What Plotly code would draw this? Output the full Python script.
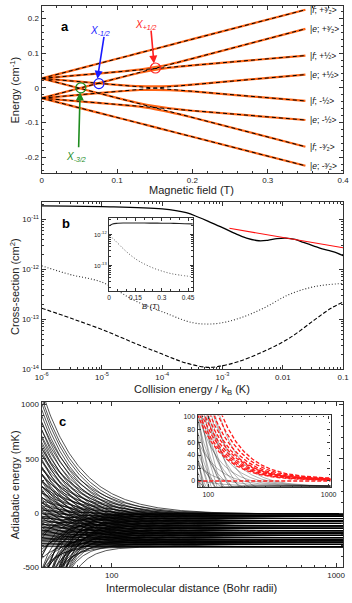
import numpy as np
import plotly.graph_objects as go

# ---------------- panel a : Zeeman levels ----------------
b_grid = [0, 0.05, 0.1, 0.13, 0.15, 0.17, 0.2, 0.35]
orange_levels = [
    [0.027, 0.0553, 0.0836, 0.1006, 0.1119, 0.1232, 0.1402, 0.225],
    [0.027, 0.0365, 0.0459, 0.0525, 0.0595, 0.0680, 0.0842, 0.170],
    [-0.030, -0.0015, 0.0271, 0.0435, 0.0515, 0.0580, 0.0648, 0.093],
    [0.027, 0.0177, 0.0086, 0.0045, 0.0038, 0.0050, 0.0092, 0.038],
    [-0.030, -0.0203, -0.0108, -0.0064, -0.0058, -0.0066, -0.0105, -0.038],
    [0.027, -0.0012, -0.0293, -0.0450, -0.0530, -0.0590, -0.0662, -0.093],
    [-0.030, -0.0390, -0.0482, -0.0545, -0.0615, -0.0700, -0.0856, -0.170],
    [-0.030, -0.0579, -0.0857, -0.1024, -0.1136, -0.1247, -0.1414, -0.225],
]
# diabatic (dashed) lines: energy at B=0 and at B=0.35 T
diab_start = [0.027, -0.030, 0.027, -0.030, 0.027, -0.030, 0.027, -0.030]
diab_end = [0.225, 0.170, 0.093, 0.038, -0.038, -0.093, -0.170, -0.225]
state_labels = ['|<i>f</i>; +³⁄₂>', '|<i>e</i>; +³⁄₂>', '|<i>f</i>; +½>', '|<i>e</i>; +½>',
                '|<i>f</i>; -½>', '|<i>e</i>; -½>', '|<i>f</i>; -³⁄₂>', '|<i>e</i>; -³⁄₂>']
label_y = [0.225, 0.170, 0.093, 0.038, -0.038, -0.093, -0.170, -0.225]

# crossings: (B, E, colour, text, text position, arrow tail, arrow head)
crossings = [
    (0.076, 0.012, '#1a1aff', 'X<sub>-1/2</sub>', (0.078, 0.165), (0.083, 0.151), (0.074, 0.026)),
    (0.151, 0.057, '#ff2020', 'X<sub>+1/2</sub>', (0.138, 0.181), (0.145, 0.169), (0.149, 0.070)),
    (0.052, 0.000, '#1e8c1e', 'X<sub>-3/2</sub>', (0.046, -0.200), (0.049, -0.176), (0.051, -0.013)),
]

# ---------------- panel b : cross sections ----------------
solid_E = [1e-6, 1e-5, 1e-4, 2.5e-4, 4e-4, 6.3e-4, 1e-3, 1.6e-3, 2.5e-3, 4e-3, 5.6e-3,
           8e-3, 1.1e-2, 1.6e-2, 2.2e-2, 3.2e-2, 4.5e-2, 6.3e-2, 8e-2, 0.1]
solid_sig = [1.86e-11, 1.80e-11, 1.62e-11, 1.36e-11, 1.10e-11, 8.7e-12, 6.8e-12, 5.2e-12,
             4.2e-12, 3.72e-12, 3.8e-12, 4.1e-12, 4.2e-12, 3.95e-12, 3.45e-12, 2.95e-12,
             2.55e-12, 2.3e-12, 2.1e-12, 1.86e-12]
red_E = [1.3e-3, 0.1]
red_sig = [6.6e-12, 2.7e-12]
dot_E = [1e-6, 3e-6, 1e-5, 3.5e-5, 1e-4, 3.2e-4, 7.5e-4, 1.8e-3, 4.8e-3, 1.26e-2, 3.4e-2, 0.1]
dot_sig = [1.17e-12, 7.8e-13, 5.5e-13, 2.35e-13, 1.41e-13, 8.5e-14, 8.1e-14, 1.02e-13,
           1.66e-13, 3.1e-13, 4.5e-13, 5.2e-13]
dash_E = [1e-6, 3e-6, 1e-5, 3.5e-5, 1e-4, 2.5e-4, 6e-4, 1e-3, 1.8e-3, 4.8e-3, 1.26e-2,
          3.4e-2, 6.3e-2, 0.1]
dash_sig = [1.66e-13, 1.05e-13, 6.2e-14, 3.3e-14, 2.0e-14, 1.32e-14, 1.08e-14, 1.17e-14,
            1.4e-14, 2.25e-14, 4.1e-14, 9.8e-14, 1.65e-13, 2.2e-13]
inset_B = [0, 0.02, 0.05, 0.08, 0.12, 0.16, 0.2, 0.25, 0.3, 0.35, 0.4, 0.476]
inset_solid = [1.9e-12, 2.2e-12, 2.3e-12, 2.35e-12, 2.35e-12, 2.35e-12, 2.35e-12,
               2.33e-12, 2.32e-12, 2.3e-12, 2.28e-12, 2.2e-12]
inset_dot = [8.9e-13, 7.6e-13, 5.2e-13, 3.5e-13, 2.2e-13, 1.5e-13, 1.12e-13, 8.3e-14,
             6.6e-14, 5.5e-14, 4.9e-14, 4.3e-14]

# ---------------- panel c : adiabatic curves ----------------
# asymptotic energies (mK); for each, how far its curves lie above / below it at R = 100 a0
c_levels = [-8, -28, -50, -72, -95, -117, -140, -162, -184, -205, -226, -247, -268, -288, -310]
c_rise = [
    [188, 140, 100, 68, 42, 20, 6],
    [180, 132, 94, 62, 36, 16, 4],
    [176, 126, 88, 57, 32, 13, 3],
    [170, 120, 82, 52, 28, 11, 4],
    [165, 114, 76, 47, 25, 9, 2],
    [158, 108, 70, 43, 22, 8, 1.5],
    [150, 102, 65, 39, 19, 6, 2],
    [142, 96, 60, 35, 17, 5, 1],
    [135, 90, 55, 31, 14, 4, 1.5],
    [128, 84, 50, 28, 12, 3.5, 1],
    [120, 78, 45, 25, 10, 3, 0.8],
    [112, 72, 41, 22, 9, 2.5, 0.6],
    [104, 66, 37, 19, 7, 2, 0.5],
    [96, 60, 33, 16, 6, 1.8, 0.4],
    [88, 54, 29, 14, 5, 1.5, 0.3],
]
c_fall = [
    [-3, -10, -21], [-5, -12, -18], [-2, -9, -23], [-6, -14, -20], [-4, -11, -25],
    [-7, -15, -22], [-3, -10, -17], [-5, -13, -24], [-2, -8, -19], [-6, -12, -22],
    [-4, -9, -16], [-5, -11, -20], [-2, -7, -14], [-4, -10, -18], [-3, -8, -25],
]
# centrifugal (red dashed) curves: distance where they reach 100 mK, and threshold
red_rc = [82, 85, 89, 93, 98, 104, 111, 120, 129]
red_thr = [0.5, 1.0, 1.5, 2.0, 2.5, 1.5, 2.0, 2.5, 3.0]

fig = go.Figure()

# panel a
for y in orange_levels:
    fig.add_trace(go.Scatter(x=b_grid, y=y, mode='lines', line=dict(color='#ff6414', width=2.2, shape='spline', smoothing=0.6),
                             xaxis='x', yaxis='y', hoverinfo='skip'))
for y0, y1 in zip(diab_start, diab_end):
    fig.add_trace(go.Scatter(x=[0, 0.35], y=[y0, y1], mode='lines', line=dict(color='black', width=1, dash='4px,3px'),
                             xaxis='x', yaxis='y', hoverinfo='skip'))
for bx, by, col, txt, tp, tail, head in crossings:
    fig.add_trace(go.Scatter(x=[bx], y=[by], mode='markers',
                             marker=dict(symbol='circle-open', size=10, color=col, line=dict(width=1.2, color=col)),
                             xaxis='x', yaxis='y', hoverinfo='skip'))

# panel b
fig.add_trace(go.Scatter(x=solid_E, y=solid_sig, mode='lines', line=dict(color='black', width=1.3, shape='spline'), xaxis='x2', yaxis='y2'))
fig.add_trace(go.Scatter(x=red_E, y=red_sig, mode='lines', line=dict(color='#ff1010', width=1.1), xaxis='x2', yaxis='y2'))
fig.add_trace(go.Scatter(x=dot_E, y=dot_sig, mode='lines', line=dict(color='#333', width=1.1, dash='1px,2px', shape='spline'), xaxis='x2', yaxis='y2'))
fig.add_trace(go.Scatter(x=dash_E, y=dash_sig, mode='lines', line=dict(color='black', width=1.1, dash='4px,2px', shape='spline'), xaxis='x2', yaxis='y2'))
fig.add_trace(go.Scatter(x=inset_B, y=inset_solid, mode='lines', line=dict(color='#222', width=1.1, shape='spline'), xaxis='x3', yaxis='y3'))
fig.add_trace(go.Scatter(x=inset_B, y=inset_dot, mode='lines', line=dict(color='#555', width=1, dash='1px,2px', shape='spline'), xaxis='x3', yaxis='y3'))

# panel c
R_main = np.logspace(np.log10(48.7), np.log10(1080), 260)
R_ins = np.logspace(np.log10(81), np.log10(1040), 220)


def curves(R):
    xs, ys = [], []
    for lev, rise, fall in zip(c_levels, c_rise, c_fall):
        for d in rise:
            xs += list(R) + [None]
            ys += list(lev + d * (100 / R) ** 2.5) + [None]
        for d in fall:
            xs += list(R) + [None]
            ys += list(lev + d * (100 / R) ** 6) + [None]
    return xs, ys


cx, cy = curves(R_main)
fig.add_trace(go.Scatter(x=cx, y=cy, mode='lines', line=dict(color='rgba(0,0,0,0.85)', width=0.8), xaxis='x4', yaxis='y4', hoverinfo='skip'))
ix, iy = curves(R_ins)
fig.add_trace(go.Scatter(x=ix, y=iy, mode='lines', line=dict(color='rgba(0,0,0,0.38)', width=0.8), xaxis='x5', yaxis='y5', hoverinfo='skip'))
rx, ry = [], []
for rc, thr in zip(red_rc, red_thr):
    rx += list(R_ins) + [None]
    ry += list(thr + 100 * (rc / R_ins) ** 2) + [None]
rx += [81, 1040]
ry += [0, 0]
fig.add_trace(go.Scatter(x=rx, y=ry, mode='lines', line=dict(color='#ff1a1a', width=1.3, dash='4px,2px'), xaxis='x5', yaxis='y5', hoverinfo='skip'))


def frame(**kw):
    d = dict(showline=True, linecolor='#333', linewidth=1.3, mirror='allticks', ticks='inside',
             ticklen=4, tickcolor='#333', tickwidth=1, showgrid=False, zeroline=False,
             tickfont=dict(size=8, color='#222'), minor=dict(ticks='inside', ticklen=2, tickcolor='#333'))
    d.update(kw)
    return d


def sup(e):
    return '10<sup>%d</sup>' % e


def minors(lo, hi):
    return [m * 10 ** k for k in range(lo, hi) for m in range(2, 10)]


W, H = 352, 603


def dx(a, b):
    return [a / W, b / W]


def dy(top, bot):
    return [1 - bot / H, 1 - top / H]


def note(x, y, text, xref='paper', yref='paper', **kw):
    d = dict(x=x, y=y, xref=xref, yref=yref, text=text, showarrow=False, xanchor='center', yanchor='middle')
    d.update(kw)
    return d


annots = []
# panel a labels
for t, y in zip(state_labels, label_y):
    annots.append(note(0.353, y, t, 'x', 'y', xanchor='left', font=dict(size=8.5, color='#111')))
for bx, by, col, txt, tp, tail, head in crossings:
    annots.append(dict(x=head[0], y=head[1], ax=tail[0], ay=tail[1], xref='x', yref='y', axref='x', ayref='y',
                       text='', showarrow=True, arrowhead=2, arrowsize=1, arrowwidth=1.6, arrowcolor=col))
    annots.append(note(tp[0], tp[1], '<i>' + txt + '</i>', 'x', 'y', font=dict(size=10, color=col)))
bold = dict(size=13, color='black')
annots.append(note(0.031, 0.177, '<b>a</b>', 'x', 'y', font=bold))
annots.append(note(-5.59, -11.08, '<b>b</b>', 'x2', 'y2', font=bold))
annots.append(note(np.log10(60), 840, '<b>c</b>', 'x4', 'y4', font=bold))
# axis titles
tf = dict(size=11, color='#222')
annots += [
    note(192 / W, 1 - 190 / H, 'Magnetic field (T)', font=tf),
    note(8 / W, 1 - 88 / H, 'Energy (cm<sup>-1</sup>)', textangle=-90, font=tf),
    note(192 / W, 1 - 392 / H, 'Collision energy / k<sub>B</sub> (K)', font=tf),
    note(8 / W, 1 - 287 / H, 'Cross-section (cm<sup>2</sup>)', textangle=-90, font=tf),
    note(150 / W, 1 - 308 / H, '<i>B</i> (T)', font=dict(size=8, color='#222')),
    note(192 / W, 1 - 593 / H, 'Intermolecular distance (Bohr radii)', font=tf),
    note(8 / W, 1 - 488 / H, 'Adiabatic energy (mK)', textangle=-90, font=tf),
]

fig.update_layout(
    width=W, height=H, margin=dict(l=0, r=0, t=0, b=0), showlegend=False,
    paper_bgcolor='white', plot_bgcolor='white',
    font=dict(family='Liberation Sans, Arial, sans-serif'),
    annotations=annots,
    xaxis=frame(domain=dx(36, 349), anchor='y', range=[0, 0.4], tickvals=[0, 0.1, 0.2, 0.3, 0.4],
                ticktext=['0', '0.1', '0.2', '0.3', '0.4'], minor=dict(ticks='inside', ticklen=2, dtick=0.02, tickcolor='#333')),
    yaxis=frame(domain=dy(3, 172), anchor='x', range=[-0.245, 0.236], tickvals=[-0.2, -0.1, 0, 0.1, 0.2],
                ticktext=['-0.2', '-0.1', '0', '0.1', '0.2'], minor=dict(ticks='inside', ticklen=2, dtick=0.02, tickcolor='#333')),
    xaxis2=frame(domain=dx(36, 349), anchor='y2', type='log', range=[-6, -1],
                 tickvals=[1e-6, 1e-5, 1e-4, 1e-3, 1e-2, 0.1], ticktext=[sup(-6), sup(-5), sup(-4), sup(-3), '0.01', '0.1'],
                 minor=dict(ticks='inside', ticklen=2, tickvals=minors(-6, -1), tickcolor='#333')),
    yaxis2=frame(domain=dy(202, 371), anchor='x2', type='log', range=[-14, -10.66],
                 tickvals=[1e-14, 1e-13, 1e-12, 1e-11], ticktext=[sup(-14), sup(-13), sup(-12), sup(-11)],
                 minor=dict(ticks='inside', ticklen=2, tickvals=minors(-14, -10), tickcolor='#333')),
    xaxis3=frame(domain=dx(106, 193), anchor='y3', range=[0, 0.477], tickvals=[0, 0.15, 0.3, 0.45],
                 ticktext=['0', '0.15', '0.3', '0.45'], tickfont=dict(size=6.5, color='#222'), ticklen=3,
                 minor=dict(ticks='inside', ticklen=1.5, dtick=0.05, tickcolor='#333')),
    yaxis3=frame(domain=dy(218, 292), anchor='x3', type='log', range=[-13.83, -11.47],
                 tickvals=[1e-13, 1e-12], ticktext=[sup(-13), sup(-12)], tickfont=dict(size=6, color='#222'), ticklen=3,
                 minor=dict(ticks='inside', ticklen=1.5, tickvals=minors(-14, -11), tickcolor='#333')),
    xaxis4=frame(domain=dx(36, 349), anchor='y4', type='log', range=[np.log10(48.7), np.log10(1075)],
                 tickvals=[100, 1000], ticktext=['100', '1000'],
                 minor=dict(ticks='inside', ticklen=2, tickvals=[50, 60, 70, 80, 90, 200, 300, 400, 500, 600, 700, 800, 900], tickcolor='#333')),
    yaxis4=frame(domain=dy(404, 572), anchor='x4', range=[-500, 1027], tickvals=[-500, 0, 500, 1000],
                 ticktext=['-500', '0', '500', '1000'], minor=dict(ticks='inside', ticklen=2, dtick=100, tickcolor='#333')),
    xaxis5=frame(domain=dx(198, 336), anchor='y5', type='log', range=[np.log10(81.7), np.log10(1038)],
                 tickvals=[100, 1000], ticktext=['100', '1000'], tickfont=dict(size=7, color='#222'), ticklen=3,
                 minor=dict(ticks='inside', ticklen=1.5, tickvals=[90, 200, 300, 400, 500, 600, 700, 800, 900], tickcolor='#333')),
    yaxis5=frame(domain=dy(418, 491), anchor='x5', range=[-10, 101], tickvals=[0, 20, 40, 60, 80, 100],
                 tickfont=dict(size=7, color='#222'), ticklen=3,
                 minor=dict(ticks='inside', ticklen=1.5, dtick=10, tickcolor='#333')),
)

fig.write_html("out.html", config={'displayModeBar': False}, post_script="document.body.style.margin='0px';")
